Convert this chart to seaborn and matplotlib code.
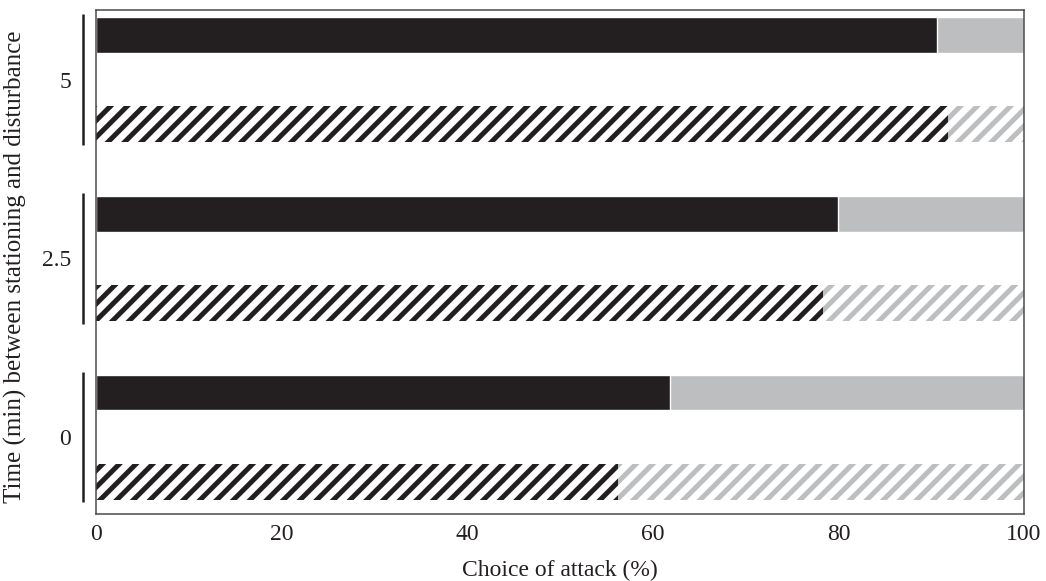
import numpy as np
import pandas as pd
import matplotlib
matplotlib.use("Agg")
import matplotlib.pyplot as plt
import matplotlib.transforms as mtransforms
import seaborn as sns

# Attack choice (%) per delay between stationing and disturbance
times = ["5", "2.5", "0"]
solid_pct = [90.6, 79.9, 61.9]
hatched_pct = [91.8, 78.3, 56.3]
x_ticks = [0, 20, 40, 60, 80, 100]

BLACK = "#231f20"
GREY = "#bcbec0"
FS = 17

sns.set_theme(style="white")
plt.rcParams["font.family"] = ["Liberation Serif", "DejaVu Serif"]
plt.rcParams["hatch.linewidth"] = 3.6

rows, pct, kind = [], [], []
for t, s, h in zip(times, solid_pct, hatched_pct):
    rows += [f"{t} solid", f"{t} hatched"]
    pct += [s, h]
    kind += ["solid", "hatched"]
df = pd.DataFrame({"row": rows, "pct": pct, "kind": kind})
df["total"] = 100.0

fig = plt.figure(figsize=(10.46, 5.81), dpi=100)
ax = fig.add_axes([0.0918, 0.1153, 0.8872, 0.8677])

sns.barplot(data=df, x="total", y="row", order=rows, color=GREY,
            width=0.4, saturation=1, ax=ax)
sns.barplot(data=df, x="pct", y="row", order=rows, color=BLACK,
            width=0.4, saturation=1, ax=ax)

n = len(rows)
for i, p in enumerate(ax.patches[:2 * n]):
    if kind[i % n] == "hatched":
        col = GREY if i < n else BLACK
        p.set_facecolor("white")
        p.set_edgecolor(col)
        p.set_hatch("//")
        p.set_linewidth(0)

ax.set_xlim(0, 100)
ax.set_ylim(5.36, -0.28)
ax.set_xticks(x_ticks)
ax.set_xticklabels([str(v) for v in x_ticks])
centers = [2 * k + 0.5 for k in range(len(times))]
ax.set_yticks(centers)
ax.set_yticklabels(times)
ax.tick_params(axis="x", length=0, pad=7, labelsize=FS, colors=BLACK)
ax.tick_params(axis="y", length=0, pad=18, labelsize=FS, colors=BLACK)

ax.set_xlabel("Choice of attack (%)", fontsize=FS, color=BLACK, labelpad=11)
ax.set_ylabel("Time (min) between stationing and disturbance", fontsize=18,
              color=BLACK, labelpad=6)
ax.yaxis.set_label_coords(-0.074, 0.49)

for sp in ax.spines.values():
    sp.set_visible(True)
    sp.set_color("#4a4a4a")
    sp.set_linewidth(1.1)

# Bracket lines marking each delay group
trans = mtransforms.blended_transform_factory(ax.transAxes, ax.transData)
for k in range(len(times)):
    y0 = 2 * k - 0.23
    y1 = 2 * k + 1 + 0.23
    ax.plot([-0.0135, -0.0135], [y0, y1], color=BLACK, lw=1.8,
            transform=trans, clip_on=False, solid_capstyle="butt")

fig.savefig("out.png", dpi=100)
